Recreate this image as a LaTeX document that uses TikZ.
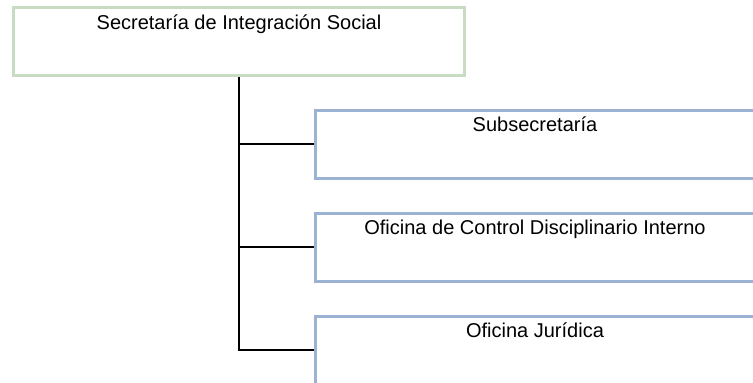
\documentclass[tikz,border=0pt]{standalone}
\usepackage{fontspec}
\setmainfont{Liberation Sans}
\usepackage{xcolor}
\definecolor{boxgreen}{HTML}{C8DBC3}
\definecolor{boxblue}{HTML}{9AB3D3}

\begin{document}
\begin{tikzpicture}[x=1pt,y=-1pt,
    unitbox/.style={draw, line width=3pt, inner sep=0pt, text height=21.5pt, text depth=46.5pt, font=\fontsize{20}{24}\selectfont},
    headbox/.style={unitbox, draw=boxgreen, minimum width=451pt},
    subbox/.style={unitbox, draw=boxblue, minimum width=440pt},
    trunk/.style={line width=2.4pt},
    branch/.style={line width=1.8pt}]
    \useasboundingbox (0,0) rectangle (753,383);

    \node[headbox] (sis) at (239,41.5) {Secretaría de Integración Social};
    \node[subbox] (sub) at (535,144) {Subsecretaría};
    \node[subbox] (ocdi) at (535,247) {Oficina de Control Disciplinario Interno};
    \node[subbox] (ojur) at (535,350) {Oficina Jurídica};

    \draw[trunk] (sis.south) |- (ojur.west);
    \draw[branch] (sis.south |- sub.west) -- (sub.west);
    \draw[branch] (sis.south |- ocdi.west) -- (ocdi.west);
\end{tikzpicture}
\end{document}
